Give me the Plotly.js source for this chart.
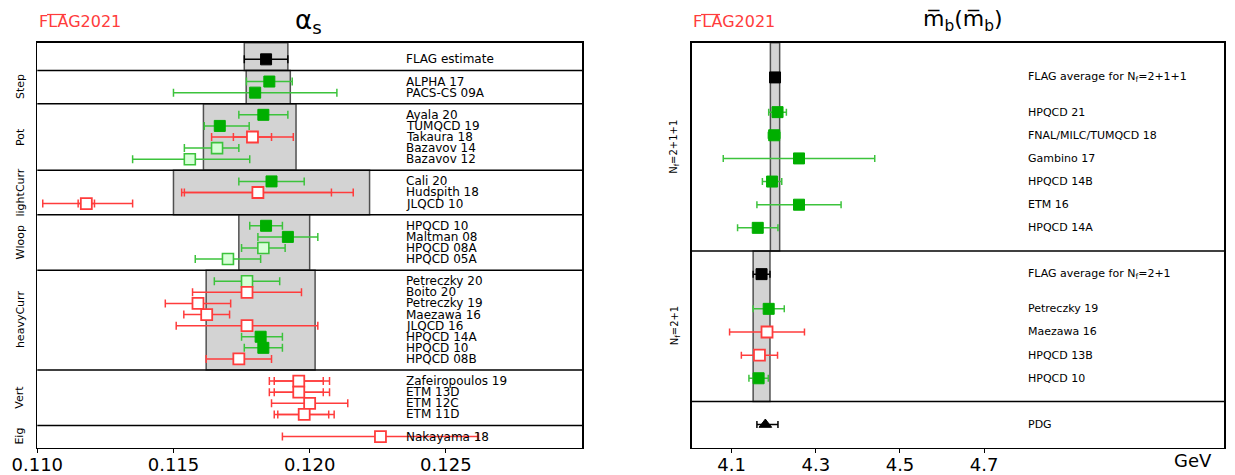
<!DOCTYPE html>
<html>
<head>
<meta charset="utf-8">
<script src="https://cdn.plot.ly/plotly-3.0.1.min.js"></script>
<style>html,body{margin:0;padding:0;background:#fff;}#chart{width:1235px;height:475px;}</style>
</head>
<body>
<div id="chart"></div>
<script>
// ---------------- LEFT PANEL: alpha_s ----------------
const aGroupNames = ['FLAG', 'Step', 'Pot', 'lightCurr', 'Wloop', 'heavyCurr', 'Vert', 'Eig'];
const aLabels = ['FLAG estimate',
  'ALPHA 17', 'PACS-CS 09A',
  'Ayala 20', 'TUMQCD 19', 'Takaura 18', 'Bazavov 14', 'Bazavov 12',
  'Cali 20', 'Hudspith 18', 'JLQCD 10',
  'HPQCD 10', 'Maltman 08', 'HPQCD 08A', 'HPQCD 05A',
  'Petreczky 20', 'Boito 20', 'Petreczky 19', 'Maezawa 16', 'JLQCD 16', 'HPQCD 14A', 'HPQCD 10', 'HPQCD 08B',
  'Zafeiropoulos 19', 'ETM 13D', 'ETM 12C', 'ETM 11D',
  'Nakayama 18'];
const aGroup = ['FLAG',
  'Step', 'Step',
  'Pot', 'Pot', 'Pot', 'Pot', 'Pot',
  'lightCurr', 'lightCurr', 'lightCurr',
  'Wloop', 'Wloop', 'Wloop', 'Wloop',
  'heavyCurr', 'heavyCurr', 'heavyCurr', 'heavyCurr', 'heavyCurr', 'heavyCurr', 'heavyCurr', 'heavyCurr',
  'Vert', 'Vert', 'Vert', 'Vert',
  'Eig'];
const aValue = [0.1184,
  0.11852, 0.1180,
  0.1183, 0.1167, 0.1179, 0.1166, 0.1156,
  0.1186, 0.1181, 0.1118,
  0.1184, 0.1192, 0.1183, 0.1170,
  0.1177, 0.1177, 0.1159, 0.11622, 0.1177, 0.1182, 0.1183, 0.1174,
  0.1196, 0.1196, 0.1200, 0.1198,
  0.1226];
const aErrMinus = [0.0008,
  0.00084, 0.0030,
  0.0009, 0.00057, 0.0015, 0.0012, 0.0021,
  0.0012, 0.0028, 0.0016,
  0.0006, 0.0011, 0.0008, 0.0012,
  0.0012, 0.0020, 0.0012, 0.00084, 0.0026, 0.0007, 0.0007, 0.0012,
  0.00108, 0.00108, 0.0014, 0.0011,
  0.0036];
const aErrPlus = [0.0008,
  0.00084, 0.0030,
  0.0009, 0.00108, 0.0015, 0.0008, 0.0022,
  0.0012, 0.0035, 0.0017,
  0.0006, 0.0011, 0.0008, 0.0012,
  0.0012, 0.0020, 0.0012, 0.00084, 0.0026, 0.0008, 0.0007, 0.0012,
  0.00113, 0.00113, 0.0014, 0.0011,
  0.0036];
// inner (statistical) error bars, null where there is none
const aInnerMinus = [null,
  null, null,
  null, null, 0.0007, null, null,
  null, 0.0027, 0.0003,
  null, null, null, null,
  null, null, null, null, null, null, null, null,
  0.0009, 0.0009, null, 0.00097,
  null];
const aInnerPlus = [null,
  null, null,
  null, null, 0.0007, null, null,
  null, 0.0027, 0.0003,
  null, null, null, null,
  null, null, null, null, null, null, null, null,
  0.0009, 0.0009, null, 0.0009,
  null];
const aStyle = ['flag',
  'filled', 'filled',
  'filled', 'filled', 'open', 'light', 'light',
  'filled', 'open', 'open',
  'filled', 'filled', 'light', 'light',
  'light', 'open', 'open', 'open', 'open', 'filled', 'filled', 'open',
  'open', 'open', 'open', 'open',
  'open'];
const aBandGroups = ['FLAG', 'Step', 'Pot', 'lightCurr', 'Wloop', 'heavyCurr'];
const aBandCenter = [0.1184, 0.11848, 0.1178, 0.1186, 0.1187, 0.1182];
const aBandErr = [0.0008, 0.00081, 0.0017, 0.0036, 0.0013, 0.0020];
const aTickVals = [0.110, 0.115, 0.120, 0.125];
const aTickText = ['0.110', '0.115', '0.120', '0.125'];

// ---------------- RIGHT PANEL: m_b ----------------
const bGroupNames = ['2+1+1', '2+1', 'PDG'];
const bGroupTitles = ['N<sub>f</sub>=2+1+1', 'N<sub>f</sub>=2+1', ''];
const bLabels = ['FLAG average for N<sub>f</sub>=2+1+1', 'HPQCD 21', 'FNAL/MILC/TUMQCD 18', 'Gambino 17', 'HPQCD 14B', 'ETM 16', 'HPQCD 14A',
  'FLAG average for N<sub>f</sub>=2+1', 'Petreczky 19', 'Maezawa 16', 'HPQCD 13B', 'HPQCD 10',
  'PDG'];
const bGroup = ['2+1+1', '2+1+1', '2+1+1', '2+1+1', '2+1+1', '2+1+1', '2+1+1',
  '2+1', '2+1', '2+1', '2+1', '2+1',
  'PDG'];
const bValue = [4.203, 4.209, 4.201, 4.26, 4.196, 4.26, 4.162,
  4.171, 4.188, 4.184, 4.166, 4.164,
  4.18];
const bErrMinus = [0.011, 0.021, 0.014, 0.18, 0.023, 0.10, 0.048,
  0.020, 0.037, 0.089, 0.043, 0.023,
  0.02];
const bErrPlus = [0.011, 0.021, 0.014, 0.18, 0.023, 0.10, 0.048,
  0.020, 0.037, 0.089, 0.043, 0.023,
  0.03];
const bStyle = ['flag', 'filled', 'filled', 'filled', 'filled', 'filled', 'filled',
  'flag', 'filled', 'open', 'open', 'filled',
  'pdg'];
const bTickVals = [4.1, 4.3, 4.5, 4.7];
const bTickText = ['4.1', '4.3', '4.5', '4.7'];

// ---------------- geometry helpers ----------------
const W = 1235, H = 475;
const px = v => v / W;
const py = v => 1 - v / H;

// left rows
const aY = [], aBounds = {};
(function () {
  let start = 0;
  aGroupNames.forEach((g, gi) => {
    const idx = aGroup.map((gg, i) => gg === g ? i : -1).filter(i => i >= 0);
    if (gi === 0) {
      idx.forEach(i => aY[i] = start + 1.5);
      aBounds[g] = [start, start + 2.5];
      start += 2.5;
    } else {
      idx.forEach((i, k) => aY[i] = start + 1 + k);
      aBounds[g] = [start, start + idx.length + 1];
      start += idx.length + 1;
    }
  });
})();
const aTotal = aBounds[aGroupNames[aGroupNames.length - 1]][1];

// right rows
const bY = [], bBounds = {};
(function () {
  let start = 0;
  bGroupNames.forEach((g, gi) => {
    const idx = bGroup.map((gg, i) => gg === g ? i : -1).filter(i => i >= 0);
    let pos = start;
    idx.forEach((i, k) => {
      if (bStyle[i] === 'flag') { pos = start + (gi === 0 ? 1.5 : 1.0); bY[i] = pos; pos += 1.5; }
      else { if (k === 0) pos = start + 1; bY[i] = pos; pos += 1; }
    });
    bBounds[g] = [start, pos];
    start = pos;
  });
})();
const bTotal = bBounds[bGroupNames[bGroupNames.length - 1]][1];

// ---------------- styles ----------------
const GREEN_BAR = 'rgb(60,195,60)';
const GREEN_FILL = 'rgb(0,175,0)';
const LIGHT_FILL = 'rgb(215,255,215)';
const RED = 'rgb(255,60,60)';
const styles = {
  flag: { marker: { symbol: 'square', color: 'black', line: { color: 'black', width: 1 } }, bar: 'black' },
  filled: { marker: { symbol: 'square', color: GREEN_FILL, line: { color: GREEN_FILL, width: 1 } }, bar: GREEN_BAR },
  light: { marker: { symbol: 'square', color: LIGHT_FILL, line: { color: GREEN_BAR, width: 1.6 } }, bar: GREEN_BAR },
  open: { marker: { symbol: 'square', color: 'white', line: { color: RED, width: 1.8 } }, bar: RED },
  pdg: { marker: { symbol: 'triangle-up', color: 'black', line: { color: 'black', width: 1 } }, bar: 'black' }
};

const traces = [];
function addTraces(vals, ys, em, ep, im, ip, st, xa, ya, size, capw) {
  Object.keys(styles).forEach(s => {
    const idx = st.map((v, i) => v === s ? i : -1).filter(i => i >= 0);
    if (!idx.length) return;
    if (im) {
      const jdx = idx.filter(i => im[i] !== null);
      if (jdx.length) {
        traces.push({
          type: 'scatter', mode: 'markers', xaxis: xa, yaxis: ya, hoverinfo: 'skip',
          x: jdx.map(i => vals[i]), y: jdx.map(i => ys[i]),
          marker: { size: 1, color: 'rgba(0,0,0,0)' },
          error_x: { type: 'data', symmetric: false, array: jdx.map(i => ip[i]), arrayminus: jdx.map(i => im[i]), color: styles[s].bar, thickness: 1.5, width: capw }
        });
      }
    }
    const sty = styles[s];
    traces.push({
      type: 'scatter', mode: 'markers', xaxis: xa, yaxis: ya,
      x: idx.map(i => vals[i]), y: idx.map(i => ys[i]),
      marker: Object.assign({ size: s === 'pdg' ? 11 : size }, sty.marker),
      error_x: { type: 'data', symmetric: false, array: idx.map(i => ep[i]), arrayminus: idx.map(i => em[i]), color: sty.bar, thickness: 1.5, width: capw }
    });
  });
}
addTraces(aValue, aY, aErrMinus, aErrPlus, aInnerMinus, aInnerPlus, aStyle, 'x', 'y', 11, 4);
addTraces(bValue, bY, bErrMinus, bErrPlus, null, null, bStyle, 'x2', 'y2', 11, 3.5);

// ---------------- shapes ----------------
const shapes = [];
aBandGroups.forEach((g, k) => {
  shapes.push({ type: 'rect', layer: 'below', xref: 'x', yref: 'y', x0: aBandCenter[k] - aBandErr[k], x1: aBandCenter[k] + aBandErr[k], y0: aBounds[g][0], y1: aBounds[g][1], fillcolor: '#d3d3d3', line: { color: '#505050', width: 1.5 } });
});
bStyle.forEach((s, i) => {
  if (s !== 'flag') return;
  const g = bGroup[i];
  shapes.push({ type: 'rect', layer: 'below', xref: 'x2', yref: 'y2', x0: bValue[i] - bErrMinus[i], x1: bValue[i] + bErrPlus[i], y0: bBounds[g][0], y1: bBounds[g][1], fillcolor: '#d3d3d3', line: { color: '#505050', width: 1.5 } });
});
aGroupNames.slice(0, -1).forEach(g => {
  shapes.push({ type: 'line', xref: 'x domain', yref: 'y', x0: 0, x1: 1, y0: aBounds[g][1], y1: aBounds[g][1], line: { color: 'black', width: 1.5 } });
});
bGroupNames.slice(0, -1).forEach(g => {
  shapes.push({ type: 'line', xref: 'x2 domain', yref: 'y2', x0: 0, x1: 1, y0: bBounds[g][1], y1: bBounds[g][1], line: { color: 'black', width: 1.5 } });
});
// FLAG logo overlines
[[47, 66], [701, 720]].forEach(p => {
  shapes.push({ type: 'line', xref: 'paper', yref: 'paper', x0: px(p[0]), x1: px(p[1]), y0: py(14.5), y1: py(14.5), line: { color: 'rgb(255,60,60)', width: 1.2 } });
});

// ---------------- annotations ----------------
const FONT = 'DejaVu Sans, sans-serif';
const ann = [];
aLabels.forEach((t, i) => ann.push({ xref: 'x domain', yref: 'y', x: 0.673, y: aY[i], text: t, showarrow: false, xanchor: 'left', yanchor: 'middle', font: { family: FONT, size: 12, color: 'black' } }));
bLabels.forEach((t, i) => ann.push({ xref: 'x2 domain', yref: 'y2', x: 0.6275, y: bY[i], text: t, showarrow: false, xanchor: 'left', yanchor: 'middle', font: { family: FONT, size: 11, color: 'black' } }));
aGroupNames.slice(1).forEach(g => ann.push({ xref: 'paper', yref: 'y', x: px(20), y: (aBounds[g][0] + aBounds[g][1]) / 2, text: g, textangle: -90, showarrow: false, xanchor: 'center', yanchor: 'middle', font: { family: FONT, size: 11, color: 'black' } }));
bGroupNames.forEach((g, k) => { if (bGroupTitles[k]) ann.push({ xref: 'paper', yref: 'y2', x: px(675), y: (bBounds[g][0] + bBounds[g][1]) / 2, text: bGroupTitles[k], textangle: -90, showarrow: false, xanchor: 'center', yanchor: 'middle', font: { family: FONT, size: 10, color: 'black' } }); });
ann.push({ xref: 'paper', yref: 'paper', x: px(37), y: py(22), text: 'FLAG2021', showarrow: false, xanchor: 'left', yanchor: 'middle', font: { family: FONT, size: 16, color: 'rgb(255,60,60)' } });
ann.push({ xref: 'paper', yref: 'paper', x: px(691), y: py(22), text: 'FLAG2021', showarrow: false, xanchor: 'left', yanchor: 'middle', font: { family: FONT, size: 16, color: 'rgb(255,60,60)' } });
ann.push({ xref: 'paper', yref: 'paper', x: px(308), y: py(21), text: 'α<sub>s</sub>', showarrow: false, xanchor: 'center', yanchor: 'middle', font: { family: FONT, size: 26, color: 'black' } });
ann.push({ xref: 'paper', yref: 'paper', x: px(963), y: py(20), text: 'm\u0305<sub>b</sub>(m\u0305<sub>b</sub>)', showarrow: false, xanchor: 'center', yanchor: 'middle', font: { family: FONT, size: 22, color: 'black' } });
ann.push({ xref: 'paper', yref: 'paper', x: px(1193), y: py(460), text: 'GeV', showarrow: false, xanchor: 'center', yanchor: 'middle', font: { family: FONT, size: 18, color: 'black' } });

const yDom = [py(447.7), py(42.7)];
const axBase = { showline: true, mirror: true, linecolor: 'black', linewidth: 1.5, showgrid: false, zeroline: false };
const layout = {
  width: W, height: H, margin: { l: 0, r: 0, t: 0, b: 0 },
  paper_bgcolor: 'white', plot_bgcolor: 'white', showlegend: false,
  xaxis: Object.assign({}, axBase, { domain: [px(37.3), px(582)], anchor: 'y', range: [0.110, 0.130], tickmode: 'array', tickvals: aTickVals, ticktext: aTickText, ticks: 'outside', ticklen: 4, tickcolor: 'black', ticklabelstandoff: -4, tickfont: { family: FONT, size: 18, color: 'black' } }),
  yaxis: Object.assign({}, axBase, { domain: yDom, anchor: 'x', range: [aTotal, 0], showticklabels: false, ticks: '' }),
  xaxis2: Object.assign({}, axBase, { domain: [px(691.7), px(1224)], anchor: 'y2', range: [4.005, 5.27], tickmode: 'array', tickvals: bTickVals, ticktext: bTickText, ticks: 'outside', ticklen: 4, tickcolor: 'black', ticklabelstandoff: -4, tickfont: { family: FONT, size: 18, color: 'black' } }),
  yaxis2: Object.assign({}, axBase, { domain: yDom, anchor: 'x2', range: [bTotal, 0], showticklabels: false, ticks: '' }),
  shapes: shapes, annotations: ann
};
Plotly.newPlot('chart', traces, layout, { displayModeBar: false, staticPlot: true });
</script>
</body>
</html>
